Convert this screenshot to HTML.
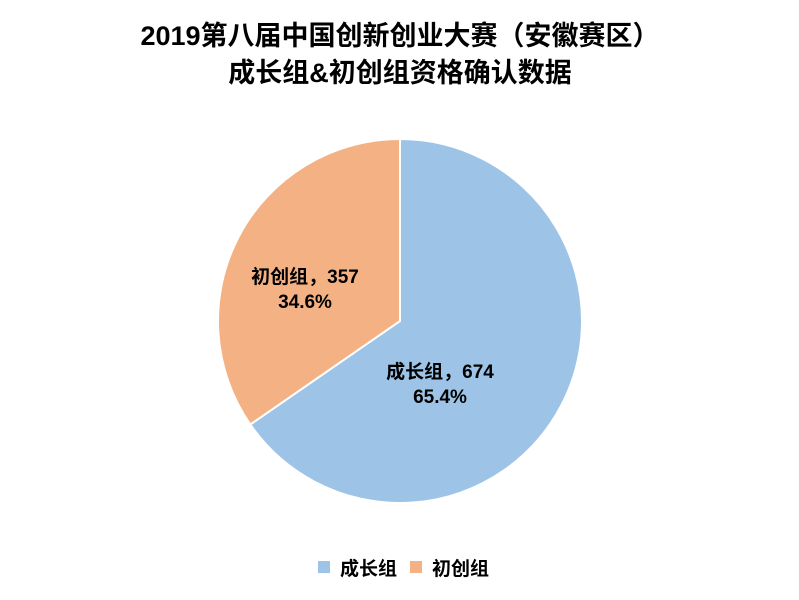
<!DOCTYPE html>
<html><head><meta charset="utf-8">
<style>
body{margin:0;background:#fff;}
#wrap{position:relative;width:799px;height:600px;overflow:hidden;font-family:"Liberation Sans","Noto Sans CJK SC",sans-serif;}
</style></head>
<body>
<div id="wrap">
<svg id="chart" width="799" height="600" font-family="Liberation Sans, Noto Sans CJK SC, sans-serif">
<text x="400" y="45" text-anchor="middle" font-size="27" font-weight="bold" fill="#000">2019第八届中国创新创业大赛（安徽赛区）</text>
<text x="400" y="82" text-anchor="middle" font-size="27" font-weight="bold" fill="#000">成长组&amp;初创组资格确认数据</text>
<g id="slices"></g>
<g id="labels"></g>
<g id="legend"></g>
</svg>
</div>
<script>
const categories = ["成长组", "初创组"];
const values = [674, 357];
const colors = ["#9DC3E6", "#F4B183"];
const cx = 400, cy = 321, r = 182;
const NS = "http://www.w3.org/2000/svg";
const total = values.reduce((a,b)=>a+b,0);
const pt = (a, rr) => [cx + rr*Math.sin(a), cy - rr*Math.cos(a)];
const sl = document.getElementById('slices');
const lb = document.getElementById('labels');
const lg = document.getElementById('legend');
let start = 0;
const labelOffsets = [[40, 57], [-95, -38]];
values.forEach((v, i) => {
  const ang = v/total*Math.PI*2;
  const end = start + ang;
  const [x1,y1] = pt(start, r), [x2,y2] = pt(end, r);
  const p = document.createElementNS(NS, 'path');
  p.setAttribute('d', `M${cx},${cy} L${x1},${y1} A${r},${r} 0 ${ang>Math.PI?1:0} 1 ${x2},${y2} Z`);
  p.setAttribute('fill', colors[i]);
  p.setAttribute('stroke', '#fff');
  p.setAttribute('stroke-width', '2');
  
  
  sl.appendChild(p);
  const lx = cx + labelOffsets[i][0], ly = cy + labelOffsets[i][1];
  const t = document.createElementNS(NS, 'text');
  t.setAttribute('x', lx); t.setAttribute('y', ly);
  t.setAttribute('text-anchor', 'middle');
  t.setAttribute('font-size', '19'); t.setAttribute('font-weight', 'bold');
  
  
  const s1 = document.createElementNS(NS, 'tspan');
  s1.setAttribute('x', lx); s1.textContent = categories[i] + '，' + v;
  const s2 = document.createElementNS(NS, 'tspan');
  s2.setAttribute('x', lx); s2.setAttribute('dy', '25');
  s2.textContent = (v/total*100).toFixed(1) + '%';
  t.appendChild(s1); t.appendChild(s2);
  lb.appendChild(t);
  start = end;
});
const legX = [318, 410];
categories.forEach((c, i) => {
  const g = document.createElementNS(NS, 'g');
  
  
  const rc = document.createElementNS(NS, 'rect');
  rc.setAttribute('x', legX[i]); rc.setAttribute('y', 561);
  rc.setAttribute('width', 12); rc.setAttribute('height', 12);
  rc.setAttribute('fill', colors[i]);
  const tx = document.createElementNS(NS, 'text');
  tx.setAttribute('x', legX[i] + 22); tx.setAttribute('y', 575);
  tx.setAttribute('font-size', '19'); tx.setAttribute('font-weight', 'bold');
  tx.textContent = c;
  g.appendChild(rc); g.appendChild(tx);
  lg.appendChild(g);
});
</script>
</body></html>
